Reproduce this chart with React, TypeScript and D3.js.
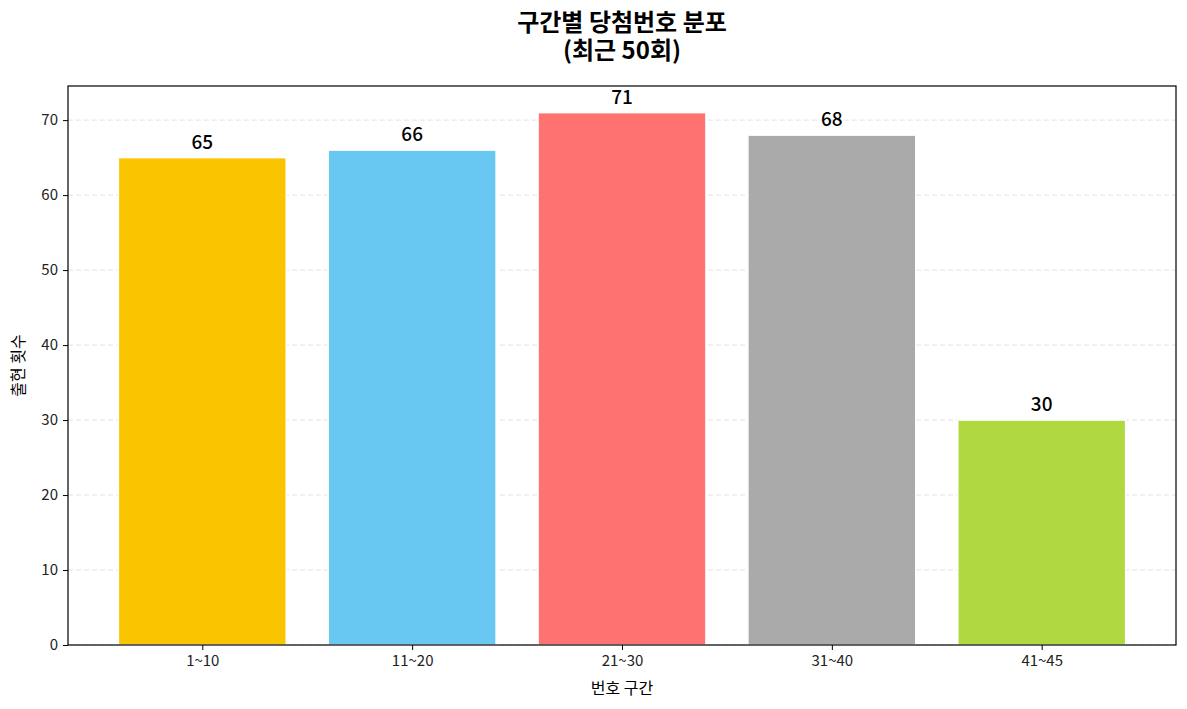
import * as d3 from 'd3'
import { useEffect, useRef } from 'react'

const categories = ['1~10', '11~20', '21~30', '31~40', '41~45']
const counts = [65, 66, 71, 68, 30]
const barColors = ['#FBC400', '#69C8F2', '#FF7272', '#AAAAAA', '#B0D840']
const yTicks = [0, 10, 20, 30, 40, 50, 60, 70]

const FONT = '"Noto Sans CJK KR", "Noto Sans", sans-serif'

const drawChart = (el: SVGSVGElement) => {
    const W = 1187
    const H = 709
    const margin = { top: 86, right: 11, bottom: 64, left: 68 }
    const width = W - margin.left - margin.right
    const height = H - margin.top - margin.bottom

    const svg = d3.select(el)
    svg.selectAll('*').remove()

    // matplotlib-like linear x: bars centered at index, width 0.8, 5% margins
    const x = d3.scaleLinear()
        .domain([-0.64, categories.length - 1 + 0.64])
        .range([0, width])

    const y = d3.scaleLinear()
        .domain([0, d3.max(counts)! * 1.05])
        .range([height, 0])

    const g = svg.append('g')
        .attr('transform', `translate(${margin.left},${margin.top})`)

    // grid
    g.append('g')
        .selectAll('line')
        .data(yTicks)
        .join('line')
        .attr('x1', 0)
        .attr('x2', width)
        .attr('y1', d => y(d))
        .attr('y2', d => y(d))
        .attr('stroke', '#b0b0b0')
        .attr('stroke-opacity', 0.35)
        .attr('stroke-dasharray', '5,3')
        .attr('stroke-width', 1)

    // bars
    const bw = x(0.8) - x(0)
    g.append('g')
        .selectAll('rect')
        .data(counts)
        .join('rect')
        .attr('x', (_, i) => x(i) - bw / 2)
        .attr('y', d => y(d))
        .attr('width', bw)
        .attr('height', d => height - y(d))
        .attr('fill', (_, i) => barColors[i])
        .attr('stroke', 'white')
        .attr('stroke-width', 1.5)

    // value labels
    g.append('g')
        .selectAll('text')
        .data(counts)
        .join('text')
        .attr('x', (_, i) => x(i))
        .attr('y', d => y(d) - 9)
        .attr('text-anchor', 'middle')
        .attr('font-family', FONT)
        .attr('font-size', 19)
        .attr('font-weight', 500)
        .attr('fill', '#000')
        .text(d => d)

    // axes
    const xAxis = g.append('g')
        .attr('transform', `translate(0,${height})`)
        .call(d3.axisBottom(x)
            .tickValues(categories.map((_, i) => i))
            .tickFormat((_, i) => categories[i])
            .tickSize(5)
            .tickPadding(5))
    const yAxis = g.append('g')
        .call(d3.axisLeft(y).tickValues(yTicks).tickSize(5).tickPadding(5))

    for (const ax of [xAxis, yAxis]) {
        ax.select('.domain').remove()
        ax.selectAll('text')
            .attr('font-family', FONT)
            .attr('font-size', 15)
            .attr('fill', '#222')
        ax.selectAll('line').attr('stroke', '#000')
    }

    // frame
    g.append('rect')
        .attr('width', width)
        .attr('height', height)
        .attr('fill', 'none')
        .attr('stroke', '#000')
        .attr('stroke-width', 1.2)

    // axis labels
    svg.append('text')
        .attr('x', margin.left + width / 2)
        .attr('y', 694)
        .attr('text-anchor', 'middle')
        .attr('font-family', FONT)
        .attr('font-size', 16)
        .text('번호 구간')

    svg.append('text')
        .attr('transform', `translate(24,${margin.top + height / 2}) rotate(-90)`)
        .attr('text-anchor', 'middle')
        .attr('font-family', FONT)
        .attr('font-size', 16)
        .text('출현 횟수')

    // title
    const cx = margin.left + width / 2
    svg.append('text')
        .attr('x', cx)
        .attr('y', 31)
        .attr('text-anchor', 'middle')
        .attr('font-family', FONT)
        .attr('font-size', 24)
        .attr('font-weight', 'bold')
        .text('구간별 당첨번호 분포')
    svg.append('text')
        .attr('x', cx)
        .attr('y', 59)
        .attr('text-anchor', 'middle')
        .attr('font-family', FONT)
        .attr('font-size', 24)
        .attr('font-weight', 'bold')
        .text('(최근 50회)')
}

const App = () => {
    const ref = useRef<SVGSVGElement>(null)

    useEffect(() => {
        if (ref.current) drawChart(ref.current)
    }, [])

    return (
        <svg ref={ref} width={1187} height={709}
            style={{ position: 'absolute', left: 0, top: 0, background: 'white' }} />
    )
}

export default App
